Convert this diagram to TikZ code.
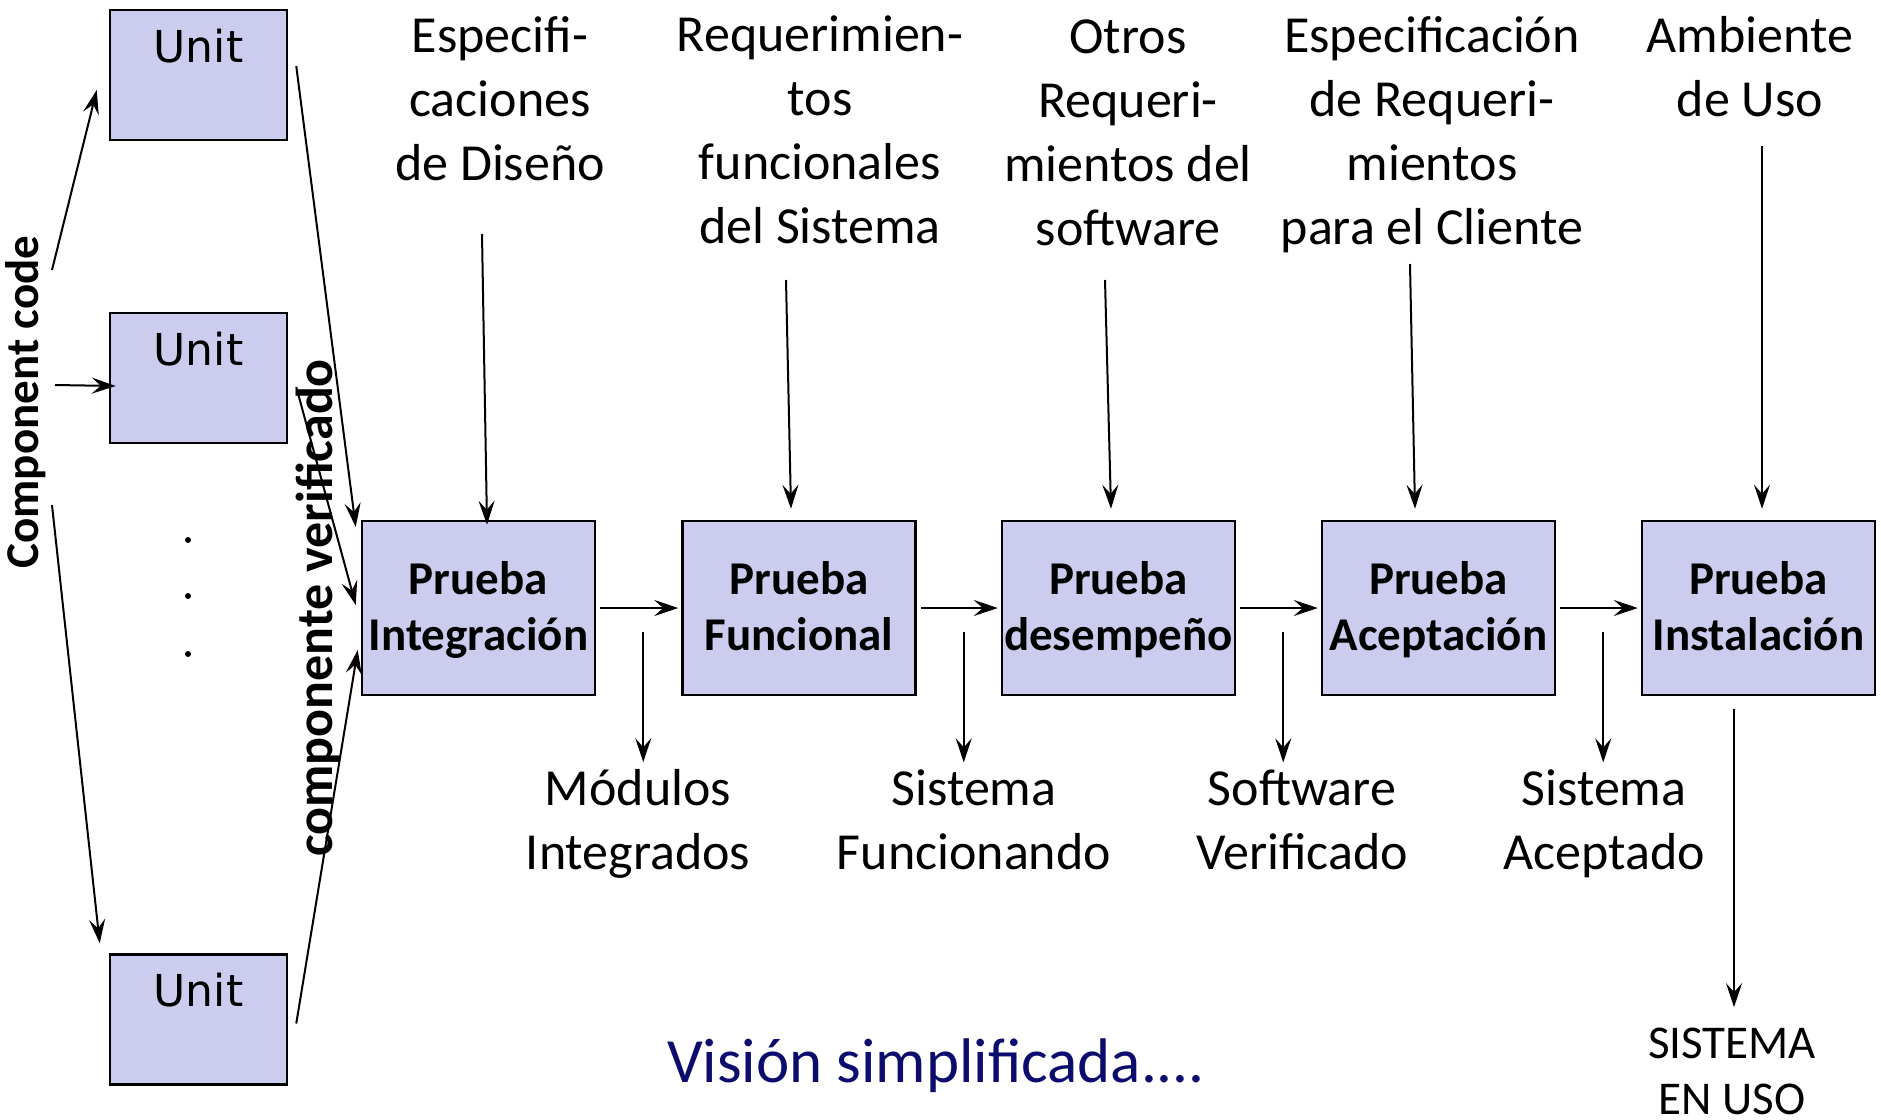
\documentclass[tikz,border=0pt]{standalone}
\usepackage{fontspec}
\setmainfont{Carlito}
\newfontfamily\unitfont{DejaVu Sans}
\usetikzlibrary{arrows.meta}
\definecolor{boxfill}{RGB}{204,204,238}
\definecolor{navytext}{RGB}{12,12,110}
\tikzset{
  unitbox/.style={
    rectangle,
    draw=black,
    line width=2.5pt,
    fill=boxfill,
    minimum width=177pt,
    inner sep=0pt,
    text height=52pt,
    text depth=78pt,
    font=\unitfont\fontsize{44}{52}\selectfont
  }
}
\tikzset{
  testbox/.style={
    rectangle,
    draw=black,
    line width=2.5pt,
    fill=boxfill,
    minimum width=233pt,
    minimum height=174pt,
    inner sep=0pt,
    align=center,
    font=\bfseries\fontsize{47}{56}\selectfont
  }
}
\tikzset{
  doc/.style={
    align=center,
    inner sep=0pt,
    font=\fontsize{52}{64}\selectfont,
    execute at begin node=\strut,
    execute at end node=\strut
  }
}
\tikzstyle{arrow} = [-{Stealth[length=24pt, width=16pt, inset=9pt]}, line width=2pt]
\def\test#1{\rule{0pt}{38pt}Prueba\\#1\rule[-10pt]{0pt}{10pt}}

\begin{document}
\begin{tikzpicture}[x=1pt, y=-1pt]
    \useasboundingbox (0,0) rectangle (1881,1119);
    \node[unitbox] (u1) at (198.5, 75) {Unit};
    \node[unitbox] (u2) at (198.5, 378) {Unit};
    \node[unitbox] (u3) at (198.5, 1019.5) {Unit};
    \foreach \y in {540, 596, 654} \fill (188, \y) circle (3pt);
    \node[rotate=90, font=\bfseries\fontsize{47}{56}\selectfont] (cc) at (26, 402) {Component code};
    \node[rotate=90, font=\bfseries\fontsize{52}{64}\selectfont] (cv) at (318, 608) {componente verificado};
    \node[testbox] (integ) at (478.5, 608) {\test{Integración}};
    \node[testbox] (func) at (799, 608) {\test{Funcional}};
    \node[testbox] (desemp) at (1118.5, 608) {\test{desempeño}};
    \node[testbox] (acept) at (1438.5, 608) {\test{Aceptación}};
    \node[testbox] (instal) at (1758.5, 608) {\test{Instalación}};
    \node[doc, anchor=north] (spec) at (500, 16) {Especifi-\\caciones\\de Diseño};
    \node[doc, anchor=north] (reqf) at (820, 16) {Requerimien-\\tos\\funcionales\\del Sistema};
    \node[doc, anchor=north] (otros) at (1128, 19.5) {Otros\\Requeri-\\mientos del\\software};
    \node[doc, anchor=north] (reqc) at (1432, 16) {Especificación\\de Requeri-\\mientos\\para el Cliente};
    \node[doc, anchor=north] (amb) at (1750, 16) {Ambiente\\de Uso};
    \node[doc] (mods) at (638, 829) {Módulos\\Integrados};
    \node[doc] (sisf) at (974, 829) {Sistema\\Funcionando};
    \node[doc] (softv) at (1302, 829) {Software\\Verificado};
    \node[doc] (sisa) at (1604, 829) {Sistema\\Aceptado};
    \node[doc, font=\fontsize{47}{56}\selectfont] (enuso) at (1732, 1080) {SISTEMA\\EN USO};
    \node[font=\fontsize{63}{76}\selectfont, text=navytext] (vision) at (936, 1066) {Visión simplificada....};
    % component code into the units
    \coordinate (c1) at (52, 270);
    \coordinate (c2) at (55, 385);
    \coordinate (c3) at (52, 505);
    \draw[arrow] (c1) -- ([shift={(-12,15)}]u1.west);
    \draw[arrow] (c2) -- ([shift={(7,8)}]u2.west);
    \draw[arrow] (c3) -- ([shift={(-9,-10)}]u3.north west);
    % verified units into integration
    \draw[arrow] ([shift={(8,-9)}]u1.east) -- ([shift={(-5,-81)}]integ.west);
    \draw[arrow] ([shift={(8,9)}]u2.east) -- ([shift={(-5,-3)}]integ.west);
    \draw[arrow] ([shift={(8,4)}]u3.east) -- ([shift={(-3,42)}]integ.west);
    % inputs from above
    \coordinate (s1) at (482, 234);
    \coordinate (s2) at (786, 280);
    \coordinate (s3) at (1105, 280);
    \coordinate (s4) at (1410, 264);
    \coordinate (s5) at (1762, 146);
    \draw[arrow] (s1) -- ([shift={(8.5,5)}]integ.north);
    \draw[arrow] (s2) -- ([shift={(-8,-11)}]func.north);
    \draw[arrow] (s3) -- ([shift={(-7.5,-11)}]desemp.north);
    \draw[arrow] (s4) -- ([shift={(-23.5,-11)}]acept.north);
    \draw[arrow] (s5) -- ([shift={(3.5,-11)}]instal.north);
    % chain of tests
    \draw[arrow, shorten <=4pt, shorten >=3pt] (integ) -- (func);
    \draw[arrow, shorten <=4pt, shorten >=3pt] (func) -- (desemp);
    \draw[arrow, shorten <=4pt, shorten >=3pt] (desemp) -- (acept);
    \draw[arrow, shorten <=4pt, shorten >=3pt] (acept) -- (instal);
    % outputs
    \coordinate (o1) at ([shift={(47,24)}]integ.east);
    \coordinate (o2) at ([shift={(47,24)}]func.east);
    \coordinate (o3) at ([shift={(47,24)}]desemp.east);
    \coordinate (o4) at ([shift={(47,24)}]acept.east);
    \coordinate (o5) at ([shift={(-24.5,13)}]instal.south);
    \draw[arrow, shorten >=7pt] (o1) -- (o1 |- mods.north);
    \draw[arrow, shorten >=7pt] (o2) -- (o2 |- sisf.north);
    \draw[arrow, shorten >=7pt] (o3) -- (o3 |- softv.north);
    \draw[arrow, shorten >=7pt] (o4) -- (o4 |- sisa.north);
    \draw[arrow, shorten >=21pt] (o5) -- (o5 |- enuso.north);
\end{tikzpicture}
\end{document}
